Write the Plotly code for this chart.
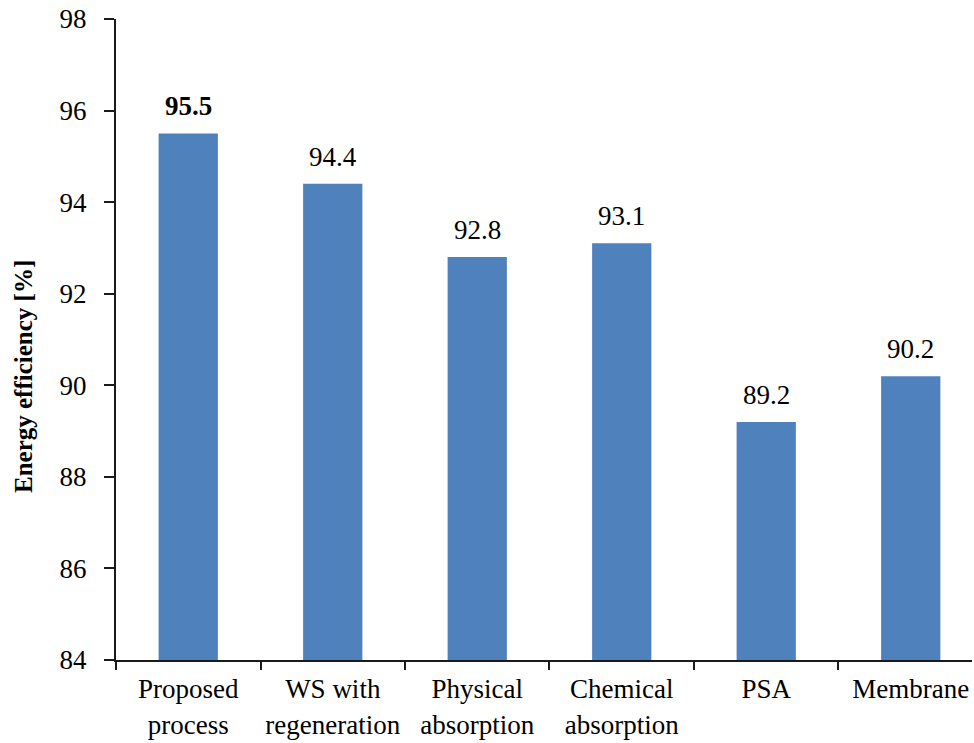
import plotly.graph_objects as go

# Energy efficiency of the compared processes
categories = ["Proposed<br>process", "WS with<br>regeneration", "Physical<br>absorption",
              "Chemical<br>absorption", "PSA", "Membrane"]
efficiency = [95.5, 94.4, 92.8, 93.1, 89.2, 90.2]
bold_label = [True, False, False, False, False, False]

y_ticks = [84, 86, 88, 90, 92, 94, 96, 98]

FONT = "Liberation Serif"
BAR_COLOR = "#4F81BD"
AXIS_COLOR = "#1a1a1a"

fig = go.Figure()
fig.add_trace(go.Bar(
    x=categories,
    y=efficiency,
    marker=dict(color=BAR_COLOR, line=dict(width=0)),
    width=0.41,
    hoverinfo="skip",
))

# value labels above each bar
for cat, val, bold in zip(categories, efficiency, bold_label):
    txt = f"{val:.1f}"
    if bold:
        txt = f"<b>{txt}</b>"
    fig.add_annotation(
        x=cat, y=val, text=txt, showarrow=False,
        xanchor="center", yanchor="bottom", yshift=10,
        font=dict(family=FONT, size=27, color="black"),
    )

# y-axis title
fig.add_annotation(
    xref="paper", yref="paper", x=0, y=0.4415,
    xshift=-92, text="<b>Energy efficiency [%]</b>", textangle=-90,
    showarrow=False, xanchor="center", yanchor="middle",
    font=dict(family=FONT, size=25, color="black"),
)

fig.update_layout(
    width=974, height=743,
    margin=dict(l=116, r=2, t=19, b=83),
    paper_bgcolor="white", plot_bgcolor="white",
    showlegend=False,
    font=dict(family=FONT, color="black"),
)
fig.update_xaxes(
    type="category",
    range=[-0.5, 5.424],
    automargin=False,
    tickangle=0,
    showline=True, linecolor=AXIS_COLOR, linewidth=2,
    ticks="outside", tickson="boundaries", ticklen=8, tickwidth=2, tickcolor=AXIS_COLOR,
    tickfont=dict(family=FONT, size=27, color="black"),
    ticklabelstandoff=4,
    showgrid=False, zeroline=False,
)
fig.update_yaxes(
    range=[84, 98],
    tickvals=y_ticks,
    automargin=False,
    showline=True, linecolor=AXIS_COLOR, linewidth=2,
    ticks="outside", ticklen=10, tickwidth=2, tickcolor=AXIS_COLOR,
    tickfont=dict(family=FONT, size=27, color="black"),
    ticklabelstandoff=12,
    showgrid=False, zeroline=False,
)

fig.write_html("out.html")
